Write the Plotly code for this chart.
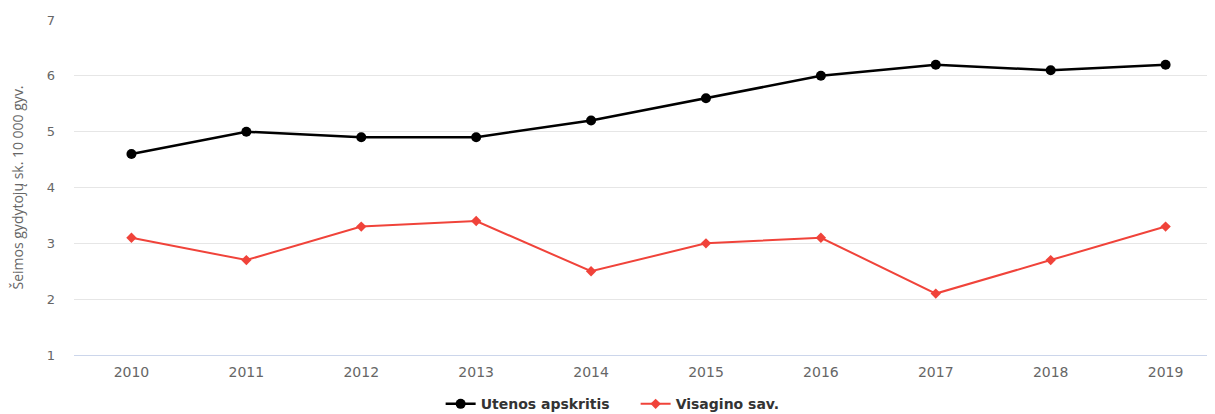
import plotly.graph_objects as go

years = ["2010", "2011", "2012", "2013", "2014", "2015", "2016", "2017", "2018", "2019"]
utena = [4.6, 5.0, 4.9, 4.9, 5.2, 5.6, 6.0, 6.2, 6.1, 6.2]
visaginas = [3.1, 2.7, 3.3, 3.4, 2.5, 3.0, 3.1, 2.1, 2.7, 3.3]
y_ticks = [1, 2, 3, 4, 5, 6, 7]

W, H = 1207, 406
L, R, T, B = 66, 0, 12, 59

fig = go.Figure()
fig.add_trace(go.Scatter(
    x=years, y=utena, name="Utenos apskritis", mode="lines+markers",
    line=dict(color="#000000", width=2.5),
    marker=dict(symbol="circle", size=10, color="#000000"),
))
fig.add_trace(go.Scatter(
    x=years, y=visaginas, name="Visagino sav.", mode="lines+markers",
    line=dict(color="#f0433a", width=2),
    marker=dict(symbol="diamond", size=8, color="#f0433a"),
))

fig.update_layout(
    width=W, height=H,
    margin=dict(l=L, r=R, t=T, b=B, autoexpand=False),
    paper_bgcolor="white", plot_bgcolor="white",
    font=dict(family="DejaVu Sans, sans-serif", color="#666666", size=12),
    showlegend=True,
    legend=dict(orientation="h", xref="container", yref="container",
                x=0.52, xanchor="center", y=0.024, yanchor="middle",
                font=dict(size=14, color="#333333", family="DejaVu Sans, sans-serif", weight="bold"),
                itemwidth=30, entrywidth=150, entrywidthmode="pixels"),
    xaxis=dict(
        type="category", range=[-0.5, 9.43], automargin=False,
        showgrid=False, showline=True, linecolor="#ccd6eb", linewidth=1, zeroline=False,
        ticks="", ticklabelstandoff=4, tickfont=dict(size=14, color="#666666"),
    ),
    yaxis=dict(
        range=[1, 7], tickvals=y_ticks, showgrid=True, gridcolor="#e6e6e6",
        zeroline=False, showline=False, ticks="", ticklabelstandoff=18, automargin=False,
        tickfont=dict(size=13, color="#666666"),
    ),
    annotations=[dict(
        text="Šeimos gydytojų sk. 10 000 gyv.", xref="paper", yref="paper",
        x=(17 - 74) / (W - L - R), y=0.5, xanchor="center", yanchor="middle",
        textangle=-90, showarrow=False,
        font=dict(size=14, color="#666666", family="Open Sans, sans-serif"),
    )],
)

fig.write_html("out.html")
